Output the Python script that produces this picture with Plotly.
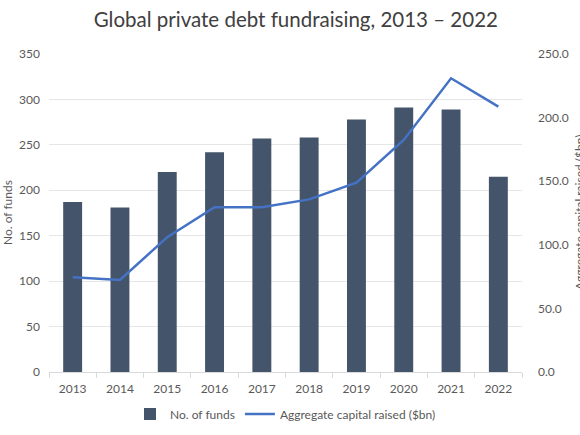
import plotly.graph_objects as go

years = ["2013", "2014", "2015", "2016", "2017", "2018", "2019", "2020", "2021", "2022"]
num_funds = [187, 181, 220, 242, 257, 258, 278, 291, 289, 215]
capital_raised = [74.4, 72.3, 106.0, 129.5, 129.6, 135.7, 148.8, 182.4, 230.9, 208.6]
left_ticks = [0, 50, 100, 150, 200, 250, 300, 350]
right_ticks = [0, 50, 100, 150, 200, 250]

FONT = "Lato"
GRAY = "#595959"
L, R, T, B = 49, 58, 54, 63
PW = 580 - L - R

fig = go.Figure()
fig.add_trace(go.Bar(
    x=years, y=num_funds, name="No. of funds",
    marker=dict(color="#44546A", line=dict(width=0)),
    yaxis="y",
))
fig.add_trace(go.Scatter(
    x=years, y=capital_raised, name="Aggregate capital raised ($bn)",
    mode="lines", line=dict(color="#4472C4", width=2.5),
    yaxis="y2",
))

fig.update_layout(
    width=580, height=435,
    margin=dict(l=L, r=R, t=T, b=B, autoexpand=False),
    paper_bgcolor="white", plot_bgcolor="white",
    font=dict(family=FONT, size=12, color=GRAY),
    title=dict(text="Global private debt fundraising, 2013 – 2022",
               x=0.51, xanchor="center", y=1 - 20 / 435, yanchor="middle",
               yref="container",
               font=dict(family=FONT, size=20.5, color="#404040")),
    bargap=0.6,
    showlegend=True,
    legend=dict(orientation="h", x=0.5, xanchor="center", y=-0.132, yanchor="middle",
                font=dict(size=12, color=GRAY), itemwidth=30, traceorder="normal"),
    xaxis=dict(
        type="category", showgrid=False, showline=True, linecolor="#D9D9D9", linewidth=1,
        ticks="outside", tickson="boundaries", ticklen=5, tickcolor="#D9D9D9",
        tickfont=dict(size=12, color=GRAY), automargin=False, ticklabelstandoff=6,
    ),
    yaxis=dict(
        range=[0, 350], tickvals=left_ticks, showgrid=True, gridcolor="#E6E6E6",
        gridwidth=1, zeroline=False, showline=False, ticks="",
        tickfont=dict(size=12, color=GRAY), automargin=False, ticklabelstandoff=8,
    ),
    yaxis2=dict(
        range=[0, 250], tickvals=right_ticks, tickformat=".1f", overlaying="y",
        side="right", showgrid=False, zeroline=False, showline=False, ticks="",
        tickfont=dict(size=12, color=GRAY), automargin=False, ticklabelstandoff=15,
    ),
)

fig.add_annotation(
    text="No. of funds", textangle=-90,
    xref="paper", yref="paper", x=(7 - L) / PW, y=0.5,
    xanchor="center", yanchor="middle", showarrow=False,
    font=dict(size=12, color=GRAY),
)
fig.add_annotation(
    text="Aggregate capital raised ($bn)", textangle=-90,
    xref="paper", yref="paper", x=(579 - L) / PW, y=0.5,
    xanchor="center", yanchor="middle", showarrow=False,
    font=dict(size=12, color=GRAY),
)

fig.write_html("out.html", config={"displayModeBar": False},
               post_script="document.body.style.margin='0';")
